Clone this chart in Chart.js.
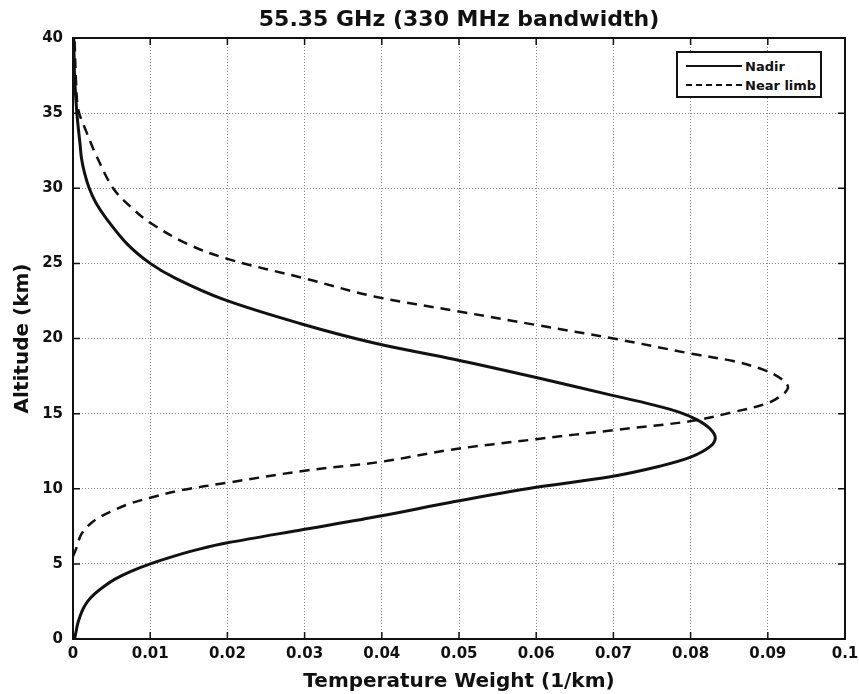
<!DOCTYPE html>
<html>
<head>
<meta charset="utf-8">
<script src="https://cdn.jsdelivr.net/npm/chart.js@4.4.1/dist/chart.umd.min.js"></script>
<style>
  html, body { margin: 0; padding: 0; background: #fff; }
  #wrap { position: relative; width: 859px; height: 694px; }
  #legend {
    position: absolute; left: 676px; top: 51px; width: 142px; height: 43px;
    border: 2px solid #111; background: #fff;
    font-family: "DejaVu Sans", sans-serif; font-weight: bold; font-size: 13px; color: #111;
  }
  .row { position: absolute; left: 8px; height: 20px; display: flex; align-items: center; }
  .sample { width: 56px; height: 0; margin-right: 3px; }
</style>
</head>
<body>
<div id="wrap">
  <canvas id="weightChart" width="859" height="694"></canvas>
  <div id="legend">
    <div class="row" style="top:3px"><span class="sample" style="border-top:2.5px solid #111"></span><span id="lab0"></span></div>
    <div class="row" style="top:22px"><span class="sample" style="border-top:2.5px dashed #111"></span><span id="lab1"></span></div>
  </div>
</div>
<script>
const seriesNames = ['Nadir', 'Near limb'];

const nadirAltitude = [0, 0.5, 1, 1.5, 2, 2.5, 3, 3.5, 4, 4.5, 5, 5.5, 6, 6.4, 7.3, 8.2, 9.1, 10.1, 10.8, 11.5, 12.1, 12.8, 13.4, 14.0, 14.6, 15.1, 15.6, 16.2, 17.4, 18.6, 19.7, 21.0, 22.6, 24.0, 25.0, 26.3, 28, 29, 30, 31, 32, 33, 35, 37.5, 40];
const nadirWeight = [0.0002, 0.0004, 0.0006, 0.0009, 0.0013, 0.0019, 0.0028, 0.0040, 0.0055, 0.0075, 0.0100, 0.0130, 0.0165, 0.0200, 0.0300, 0.0400, 0.0490, 0.0600, 0.0696, 0.0760, 0.0800, 0.0825, 0.0832, 0.0825, 0.0808, 0.0785, 0.0750, 0.0700, 0.0600, 0.0495, 0.0390, 0.0294, 0.0195, 0.0133, 0.0100, 0.0070, 0.0043, 0.0030, 0.0021, 0.0015, 0.0011, 0.0009, 0.0005, 0.0002, 0.0001];

const limbAltitude = [5.5, 6, 6.5, 7, 7.5, 8, 8.5, 9, 9.4, 9.9, 10.4, 11.2, 11.8, 12.6, 13.3, 13.9, 14.5, 15.1, 15.7, 16.3, 16.7, 17.0, 17.5, 18.0, 18.5, 19.0, 20.0, 20.9, 21.8, 22.8, 24.0, 25.3, 26.3, 27.7, 28.7, 30.0, 32.2, 33.8, 35.2, 37.0, 40];
const limbWeight = [0, 0.0004, 0.0007, 0.0011, 0.0019, 0.0031, 0.0050, 0.0073, 0.0100, 0.0140, 0.0200, 0.0300, 0.0400, 0.0490, 0.0600, 0.0700, 0.0800, 0.0855, 0.0900, 0.0920, 0.0926, 0.0924, 0.0912, 0.0890, 0.0855, 0.0800, 0.0700, 0.0600, 0.0500, 0.0390, 0.0300, 0.0200, 0.0148, 0.0100, 0.0076, 0.0052, 0.0030, 0.0017, 0.0007, 0.0004, 0.0002];

const xTicks = [0, 0.01, 0.02, 0.03, 0.04, 0.05, 0.06, 0.07, 0.08, 0.09, 0.1];
const yTicks = [0, 5, 10, 15, 20, 25, 30, 35, 40];

document.getElementById('lab0').textContent = seriesNames[0];
document.getElementById('lab1').textContent = seriesNames[1];

const toPoints = (xs, ys) => xs.map((v, i) => ({ x: v, y: ys[i] }));

// box round the plot, with short ticks pointing inward
const framePlugin = {
    id: 'frame',
    afterDatasetsDraw(chart) {
        const { ctx, chartArea: a, scales } = chart;
        ctx.save();
        ctx.strokeStyle = '#111';
        ctx.lineWidth = 2;
        ctx.strokeRect(a.left, a.top, a.right - a.left, a.bottom - a.top);
        ctx.lineWidth = 1.5;
        ctx.beginPath();
        xTicks.forEach(v => {
            const px = scales.x.getPixelForValue(v);
            ctx.moveTo(px, a.bottom); ctx.lineTo(px, a.bottom - 7);
            ctx.moveTo(px, a.top); ctx.lineTo(px, a.top + 7);
        });
        yTicks.forEach(v => {
            const py = scales.y.getPixelForValue(v);
            ctx.moveTo(a.left, py); ctx.lineTo(a.left + 7, py);
            ctx.moveTo(a.right, py); ctx.lineTo(a.right - 7, py);
        });
        ctx.stroke();
        ctx.restore();
    }
};

const family = '"DejaVu Sans", sans-serif';
const gridStyle = { color: '#8a8a8a', lineWidth: 1, drawTicks: false };

new Chart(document.getElementById('weightChart').getContext('2d'), {
    type: 'scatter',
    data: {
        datasets: [
            {
                label: seriesNames[0],
                data: toPoints(nadirWeight, nadirAltitude),
                showLine: true,
                borderColor: '#111',
                borderWidth: 3,
                pointRadius: 0,
                tension: 0.35
            },
            {
                label: seriesNames[1],
                data: toPoints(limbWeight, limbAltitude),
                showLine: true,
                borderColor: '#111',
                borderWidth: 2.5,
                borderDash: [10, 7],
                pointRadius: 0,
                tension: 0.35
            }
        ]
    },
    options: {
        responsive: false,
        animation: false,
        layout: { padding: { left: 0, right: 14, top: 0, bottom: 0 } },
        plugins: {
            legend: { display: false },
            tooltip: { enabled: false },
            title: {
                display: true,
                fullSize: false,
                text: '55.35 GHz (330 MHz bandwidth)',
                color: '#111',
                font: { family: family, weight: 'bold', size: 22, lineHeight: 1.2 },
                padding: { top: 7, bottom: 4.6 }
            }
        },
        scales: {
            x: {
                type: 'linear',
                min: 0,
                max: 0.1,
                afterBuildTicks: s => { s.ticks = xTicks.map(v => ({ value: v })); },
                afterFit: s => { s.height = 55; s.paddingLeft = 0; s.paddingRight = 0; },
                border: { display: false, dash: [1, 2] },
                grid: gridStyle,
                ticks: {
                    color: '#111',
                    padding: 6,
                    maxRotation: 0,
                    font: { family: family, weight: 'bold', size: 15 },
                    callback: v => String(+v.toFixed(2))
                },
                title: {
                    display: true,
                    text: 'Temperature Weight (1/km)',
                    color: '#111',
                    font: { family: family, weight: 'bold', size: 20 },
                    padding: { top: 0, bottom: 0 }
                }
            },
            y: {
                type: 'linear',
                min: 0,
                max: 40,
                afterBuildTicks: s => { s.ticks = yTicks.map(v => ({ value: v })); },
                afterFit: s => { s.width = 73; s.paddingTop = 0; s.paddingBottom = 0; },
                border: { display: false, dash: [1, 2] },
                grid: gridStyle,
                ticks: {
                    color: '#111',
                    padding: 10,
                    font: { family: family, weight: 'bold', size: 15 }
                },
                title: {
                    display: true,
                    text: 'Altitude (km)',
                    color: '#111',
                    font: { family: family, weight: 'bold', size: 20 },
                    padding: { top: 11, bottom: 0 }
                }
            }
        }
    },
    plugins: [framePlugin]
});
</script>
</body>
</html>
